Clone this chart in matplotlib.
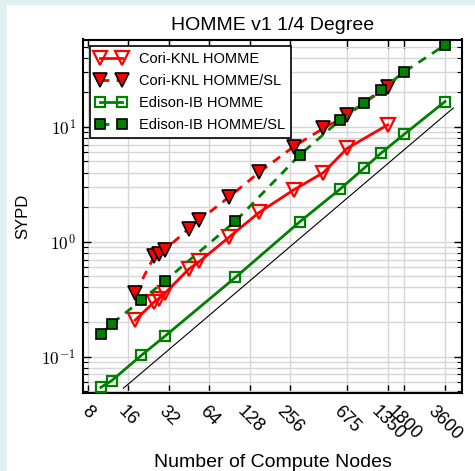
import matplotlib
matplotlib.use("Agg")
import matplotlib.pyplot as plt
from matplotlib.ticker import FixedLocator, FixedFormatter, LogLocator, NullFormatter
from matplotlib.patches import Rectangle

# ---- data ----
cori_nodes = [18, 25, 27, 30, 45, 54, 90, 150, 270, 450, 675, 1350]
cori_homme = [0.208, 0.30, 0.32, 0.357, 0.578, 0.673, 1.1, 1.80, 2.82, 4.0, 6.5, 10.4]
cori_homme_sl = [0.356, 0.751, 0.789, 0.855, 1.30, 1.545, 2.46, 4.02, 6.72, 9.71, 12.7, 22.4]

edison_nodes = [10, 12, 20, 30, 100, 300, 600, 900, 1200, 1800, 3600]
edison_homme = [0.054, 0.0616, 0.1025, 0.151, 0.49, 1.49, 2.88, 4.36, 5.88, 8.66, 16.6]
edison_homme_sl = [0.156, 0.192, 0.31, 0.457, 1.51, 5.69, 11.5, 16.2, 20.9, 30.2, 51.6]

ideal_x = [14.7, 4150]
ideal_y = [0.053, 14.6]

xticks = [8, 16, 32, 64, 128, 256, 675, 1350, 1800, 3600]
xtick_labels = [str(v) for v in xticks]
yticks = [0.1, 1, 10]
ytick_labels = [r'$10^{-1}$', r'$10^{0}$', r'$10^{1}$']

title = "HOMME v1 1/4 Degree"
xlabel = "Number of Compute Nodes"
ylabel = "SYPD"

# ---- style ----
plt.rcParams['font.family'] = ['Liberation Sans', 'DejaVu Sans']
plt.rcParams['mathtext.fontset'] = 'cm'

fig = plt.figure(figsize=(4.75, 4.71), dpi=100)
fig.patch.set_facecolor('white')
bg = '#e3f0f1'
fig.patches.append(Rectangle((0, 0), 7 / 475, 1, transform=fig.transFigure,
                             facecolor=bg, edgecolor='none', zorder=-10))
fig.patches.append(Rectangle((0, 1 - 5 / 471), 1, 5 / 471, transform=fig.transFigure,
                             facecolor=bg, edgecolor='none', zorder=-10))

ax = fig.add_axes([83 / 475, 1 - 393 / 471, (462 - 83) / 475, (393 - 39.5) / 471])
ax.set_xscale('log', base=2)
ax.set_yscale('log')

red = '#ff0000'
green = '#008000'
dash = (3.2, 2.6)

ax.plot(cori_nodes, cori_homme, color=red, lw=2, marker='v', ms=10,
        mfc='none', mec=red, mew=1.6, label='Cori-KNL HOMME', zorder=3)
ax.plot(cori_nodes, cori_homme_sl, color=red, lw=2, ls='--', dashes=dash, marker='v', ms=10,
        mfc=red, mec='black', mew=1.2, label='Cori-KNL HOMME/SL', zorder=3)
ax.plot(edison_nodes, edison_homme, color=green, lw=2, marker='s', ms=7,
        mfc='none', mec=green, mew=1.6, label='Edison-IB HOMME', zorder=3)
ax.plot(edison_nodes, edison_homme_sl, color=green, lw=2, ls='--', dashes=dash, marker='s', ms=7,
        mfc=green, mec='black', mew=1.2, label='Edison-IB HOMME/SL', zorder=3)
ax.plot(ideal_x, ideal_y, color='black', lw=0.8, zorder=2)

ax.set_xlim(7.37, 4813)
ax.set_ylim(0.0482, 57.6)

ax.xaxis.set_major_locator(FixedLocator(xticks))
ax.xaxis.set_major_formatter(FixedFormatter(xtick_labels))
ax.xaxis.set_minor_locator(FixedLocator([]))
ax.yaxis.set_major_locator(FixedLocator(yticks))
ax.yaxis.set_major_formatter(FixedFormatter(ytick_labels))
ax.yaxis.set_minor_locator(LogLocator(base=10, subs=[2, 3, 4, 5, 6, 7, 8, 9], numticks=20))
ax.yaxis.set_minor_formatter(NullFormatter())

ax.tick_params(which='both', direction='in', top=True, right=True, color='black')
ax.tick_params(which='major', length=6, width=1.0)
ax.tick_params(which='minor', length=3.5, width=0.8)
ax.tick_params(axis='x', labelsize=13, pad=7)
ax.tick_params(axis='y', labelsize=12.5, pad=5)
plt.setp(ax.get_xticklabels(), rotation=-45, ha='center')

ax.grid(True, which='major', axis='both', color='#d6d6d6', lw=1.0, zorder=0)
ax.grid(True, which='minor', axis='y', color='#d6d6d6', lw=1.0, zorder=0)
ax.set_axisbelow(True)

for s in ax.spines.values():
    s.set_linewidth(1.5)
    s.set_color('black')

ax.set_title(title, fontsize=14, pad=7)
ax.set_xlabel(xlabel, fontsize=14, labelpad=8)
ax.set_ylabel(ylabel, fontsize=12, labelpad=8)

leg = ax.legend(loc='upper left', numpoints=2, fontsize=10.5, fancybox=False,
                edgecolor='black', framealpha=1, borderaxespad=0.45,
                handlelength=2.1, handletextpad=0.9, labelspacing=0.55)
leg.get_frame().set_linewidth(1.2)

fig.savefig('out.png', dpi=100)
